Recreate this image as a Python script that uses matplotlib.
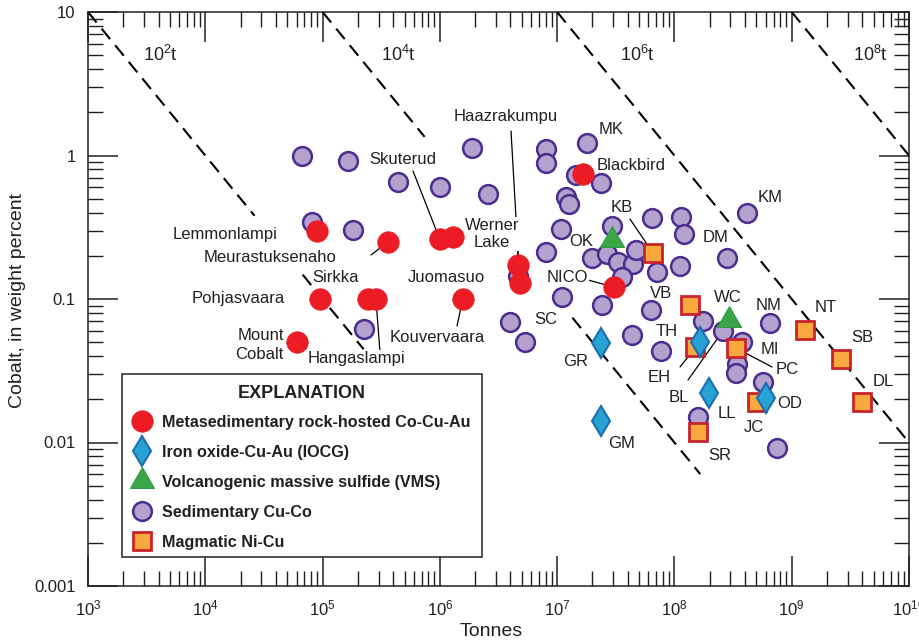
import numpy as np
import matplotlib
matplotlib.use('Agg')
import matplotlib.pyplot as plt
from matplotlib.patches import Rectangle
from matplotlib.ticker import LogLocator, FuncFormatter, LogFormatterMathtext, NullFormatter

plt.rcParams['font.family'] = ['Liberation Sans', 'DejaVu Sans']
plt.rcParams['mathtext.fontset'] = 'custom'
plt.rcParams['mathtext.rm'] = 'Liberation Sans'
plt.rcParams['mathtext.it'] = 'Liberation Sans:italic'
plt.rcParams['mathtext.bf'] = 'Liberation Sans:bold'

INK = '#231f20'

# --- deposits: tonnes of ore, cobalt grade (wt %) ---
meta_t = [9.0e4, 3.6e5, 1.0e6, 1.3e6, 4.6e6, 4.8e6, 1.66e7, 3.05e7, 9.5e4, 2.45e5, 2.85e5, 6.0e4, 1.57e6]
meta_co = [0.30, 0.25, 0.26, 0.27, 0.173, 0.129, 0.74, 0.121, 0.10, 0.10, 0.10, 0.050, 0.10]
meta_names = ['Lemmonlampi', 'Meurastuksenaho', 'Skuterud', '', 'Werner Lake', 'Haazrakumpu',
              'Blackbird', 'NICO', 'Pohjasvaara', 'Sirkka', 'Hangaslampi', 'Mount Cobalt', 'Kouvervaara']

iocg_t = [2.36e7, 2.36e7, 1.65e8, 1.97e8, 6.0e8]
iocg_co = [0.049, 0.0141, 0.050, 0.022, 0.0204]
iocg_names = ['GR', 'GM', 'EH', 'LL', 'OD']

vms_t = [2.93e7, 2.92e8]
vms_co = [0.257, 0.0714]
vms_names = ['', 'WC']

sed_t = [6.7e4, 1.65e5, 8.1e4, 1.82e5, 4.4e5, 1.0e6, 1.88e6, 2.57e6, 8.0e6, 8.0e6,
         1.19e7, 1.26e7, 1.08e7, 8.0e6, 4.6e6, 1.10e7, 4.0e6, 5.3e6, 1.80e7, 1.45e7,
         2.36e7, 2.93e7, 6.4e7, 1.14e8, 1.20e8, 2.8e8, 4.15e8, 1.98e7, 2.66e7, 3.3e7,
         4.43e7, 4.7e7, 3.57e7, 7.1e7, 1.11e8, 2.41e7, 6.3e7, 4.35e7, 7.7e7, 1.75e8,
         2.59e8, 3.76e8, 3.41e8, 3.34e8, 5.68e8, 6.52e8, 1.58e8, 7.5e8, 2.25e5]
sed_co = [0.99, 0.92, 0.344, 0.303, 0.653, 0.603, 1.13, 0.54, 1.11, 0.887,
          0.514, 0.459, 0.308, 0.213, 0.145, 0.103, 0.069, 0.050, 1.22, 0.731,
          0.643, 0.323, 0.366, 0.372, 0.284, 0.193, 0.397, 0.193, 0.206, 0.181,
          0.175, 0.219, 0.142, 0.154, 0.170, 0.0908, 0.0838, 0.0561, 0.0434, 0.0703,
          0.0599, 0.0501, 0.0352, 0.0305, 0.0264, 0.068, 0.0151, 0.0092, 0.0618]
sed_names = ['', '', '', '', '', '', '', '', '', '',
             '', '', '', '', '', '', 'SC', '', 'MK', '',
             '', '', '', '', '', 'DM', 'KM', '', '', '',
             '', '', '', '', '', '', 'VB', '', 'TH', '',
             'BL', '', '', '', '', 'NM', '', '', '']

mag_t = [6.56e7, 1.36e8, 1.50e8, 3.34e8, 5.05e8, 1.58e8, 1.30e9, 2.62e9, 3.96e9]
mag_co = [0.209, 0.0908, 0.0463, 0.0456, 0.0191, 0.0118, 0.0608, 0.0382, 0.0191]
mag_names = ['KB', '', '', 'PC', 'JC', 'SR', 'NT', 'SB', 'DL']

# contained-cobalt reference lines (tonnes Co) and the visible spans (log10 tonnes of ore)
contained = [1e2, 1e4, 1e6, 1e8]
contained_spans = [[(3.0, 4.42), (4.83, 5.35)], [(5.0, 5.87), (7.13, 8.22)], [(7.0, 10.0)], [(9.0, 10.0)]]

fig = plt.figure(figsize=(9.19, 6.44), dpi=100)
W, H = 919, 644
ax = fig.add_axes([88 / W, 1 - 586 / H, 821 / W, 574 / H])
ax.set_xscale('log')
ax.set_yscale('log')
ax.set_xlim(1e3, 1e10)
ax.set_ylim(1e-3, 10)


def fig_px(x, y):
    # layout position measured from the top-left of the canvas
    return (x, H - y)


for c, spans in zip(contained, contained_spans):
    for lo, hi in spans:
        t = np.logspace(lo, hi, 50)
        ax.plot(t, 100 * c / t, color='black', lw=1.5, dashes=(6.5, 3.8), zorder=2)

tri = [(0, 1.155), (-1, -0.577), (1, -0.577), (0, 1.155)]
h_sed, = ax.plot(sed_t, sed_co, 'o', ls='none', ms=13.5, mfc='#b3a1ce', mec='#4a2d8f', mew=1.8, zorder=4)
h_mag, = ax.plot(mag_t, mag_co, 's', ls='none', ms=13.5, mfc='#f9a83f', mec='#c8242b', mew=2.0, zorder=5)
h_iocg, = ax.plot(iocg_t, iocg_co, 'd', ls='none', ms=15, mfc='#27a2d3', mec='#1d6db2', mew=1.5, zorder=6)
h_vms, = ax.plot(vms_t, vms_co, marker=tri, ls='none', ms=20, mfc='#3aa648', mec='#2f9a45', mew=0.8, zorder=6)
h_meta, = ax.plot(meta_t, meta_co, 'o', ls='none', ms=15.5, mfc='#ec1c24', mec='#ec1c24', mew=0.5, zorder=7)

points = {}
for names, ts, cs in [(meta_names, meta_t, meta_co), (iocg_names, iocg_t, iocg_co),
                      (vms_names, vms_t, vms_co), (sed_names, sed_t, sed_co),
                      (mag_names, mag_t, mag_co)]:
    for n, t, c in zip(names, ts, cs):
        if n:
            points[n] = (t, c)

# site labels: text, centre (x, y) on the canvas
labels = [
    ('MK', 611, 130), ('Blackbird', 631, 165), ('KB', 622, 207), ('OK', 581, 241),
    ('DM', 716, 237), ('KM', 770, 197), ('NICO', 567, 277), ('VB', 661, 293),
    ('WC', 728, 297), ('NM', 769, 305), ('NT', 826, 307), ('SB', 862, 337),
    ('DL', 883, 382), ('MI', 770, 349), ('PC', 787, 369), ('TH', 667, 332),
    ('GR', 576, 362), ('GM', 622, 443), ('EH', 659, 378), ('BL', 679, 397),
    ('LL', 727, 413), ('JC', 754, 428), ('OD', 790, 403), ('SR', 720, 455),
    ('SC', 546, 320), ('Haazrakumpu', 506, 117), ('Werner\nLake', 492, 234),
    ('Skuterud', 403, 160), ('Lemmonlampi', 225, 235), ('Meurastuksenaho', 270, 258),
    ('Sirkka', 336, 278), ('Pohjasvaara', 238, 298), ('Juomasuo', 446, 277),
    ('Kouvervaara', 437, 338), ('Hangaslampi', 356, 358),
]
for text, x, y in labels:
    ax.annotate(text, xy=fig_px(x, y), xycoords='figure pixels', ha='center', va='center',
                fontsize=12, color=INK, zorder=3,
                bbox=dict(boxstyle='square,pad=0.05', fc='white', ec='none'))
ax.annotate('Mount\nCobalt', xy=fig_px(284, 345), xycoords='figure pixels', ha='right', va='center',
            multialignment='right', linespacing=1.4, fontsize=12, color=INK, zorder=3)

# leader lines: start on the canvas, end at the named deposit
leaders = [
    ((413, 171), 'Skuterud'), ((371, 255), 'Meurastuksenaho'), ((518, 238), 'Werner Lake'),
    ((511, 131), 'Haazrakumpu'), ((380, 352), 'Hangaslampi'), ((457, 326), 'Kouvervaara'),
    ((630, 219), 'KB'), ((588, 280), 'NICO'), ((772, 367), 'PC'), ((680, 367), 'EH'),
    ((688, 380), 'BL'),
]
for (x, y), name in leaders:
    ax.annotate('', xy=points[name], xycoords='data', xytext=fig_px(x, y), textcoords='figure pixels',
                arrowprops=dict(arrowstyle='-', color='black', lw=0.9, shrinkA=0, shrinkB=0), zorder=2.5)

for c, x in zip(contained, [160, 398, 637, 870]):
    ax.annotate(r'$\mathdefault{10^{%d}t}$' % int(np.log10(c)), xy=fig_px(x, 55), xycoords='figure pixels',
                ha='center', va='center', fontsize=13, color=INK)

ax.xaxis.set_major_locator(LogLocator(base=10, numticks=20))
ax.xaxis.set_minor_locator(LogLocator(base=10, subs=np.arange(2, 10), numticks=100))
ax.xaxis.set_major_formatter(LogFormatterMathtext())
ax.xaxis.set_minor_formatter(NullFormatter())
ax.yaxis.set_major_locator(LogLocator(base=10, numticks=20))
ax.yaxis.set_minor_locator(LogLocator(base=10, subs=np.arange(2, 10), numticks=100))
ax.yaxis.set_major_formatter(FuncFormatter(lambda v, _: '%g' % v))
ax.yaxis.set_minor_formatter(NullFormatter())
ax.tick_params(which='major', direction='in', length=21.5, width=1.1, top=True, right=True,
               labelsize=12, pad=9, color=INK, labelcolor=INK)
ax.tick_params(which='minor', direction='in', length=10.8, width=1.0, top=True, right=True, color=INK)
for s in ax.spines.values():
    s.set_linewidth(1.1)
    s.set_color(INK)

fig.text(18 / W, 1 - 300 / H, 'Cobalt, in weight percent', rotation=90, ha='center', va='center',
         fontsize=14, color=INK)
fig.text(491 / W, 1 - 632 / H, 'Tonnes', ha='center', va='center', fontsize=14, color=INK)

# explanation box
box_l, box_t, box_r, box_b = 122, 374, 482, 557
ax.add_patch(Rectangle(fig_px(box_l, box_b), box_r - box_l, box_b - box_t, transform=None,
                       fc='white', ec=INK, lw=1.1, zorder=9))
ax.annotate('EXPLANATION', xy=fig_px((box_l + box_r) / 2, 394), xycoords='figure pixels',
            ha='center', va='center', fontsize=13, fontweight='bold', color=INK, zorder=11)

handles = [h_meta, h_iocg, h_vms, h_sed, h_mag]
names = ['Metasedimentary rock-hosted Co-Cu-Au', 'Iron oxide-Cu-Au (IOCG)',
         'Volcanogenic massive sulfide (VMS)', 'Sedimentary Cu-Co', 'Magmatic Ni-Cu']
leg = ax.legend(handles, names, loc='lower left',
                bbox_to_anchor=((box_l - 88) / 821, (586 - box_b) / 574), borderaxespad=0,
                prop={'weight': 'bold', 'size': 11.6}, frameon=False, numpoints=1,
                handlelength=1.6, handletextpad=0.45, labelspacing=0.93, borderpad=0.45, labelcolor=INK)
leg.set_zorder(10)

fig.savefig('out.png', dpi=100)
